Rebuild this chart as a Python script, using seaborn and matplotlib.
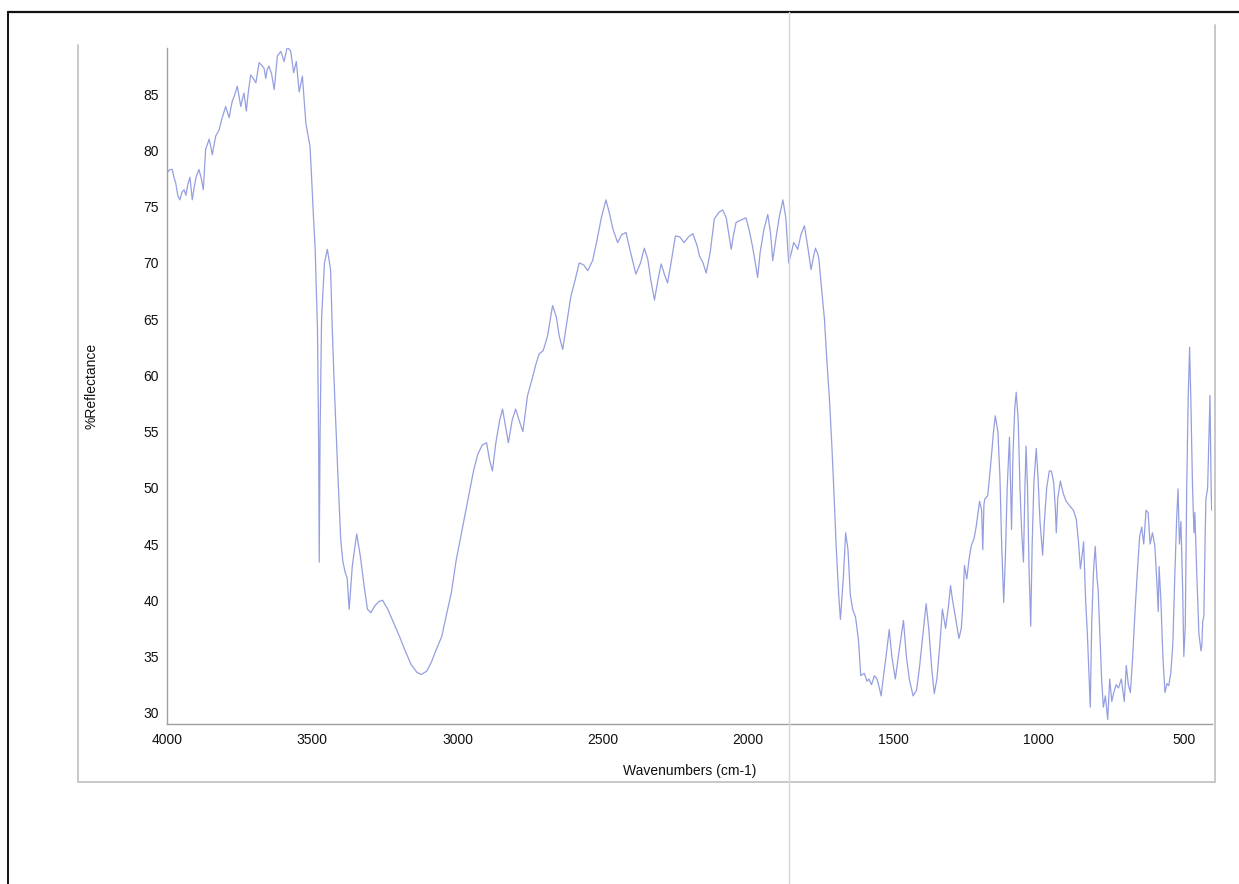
import numpy as np
import pandas as pd
import matplotlib
matplotlib.use("Agg")
import matplotlib.pyplot as plt
from matplotlib.lines import Line2D
from matplotlib.ticker import MultipleLocator
import seaborn as sns

wavenumber = [
    4000, 3990, 3982, 3975, 3970, 3963, 3956, 3948, 3941, 3935, 3928, 3921, 3913, 3906, 3899, 3890,
    3882, 3875, 3867, 3860, 3855, 3849, 3844, 3838, 3832, 3821, 3810, 3798, 3792, 3786, 3780, 3775,
    3766, 3758, 3752, 3746, 3740, 3735, 3731, 3727, 3720, 3712, 3703, 3694, 3688, 3683, 3675, 3666,
    3660, 3655, 3649, 3640, 3631, 3625, 3620, 3608, 3597, 3586, 3574, 3564, 3555, 3545, 3534, 3522,
    3508, 3503, 3497, 3490, 3482, 3478, 3476, 3473, 3468, 3458, 3448, 3437, 3431, 3425, 3413, 3402,
    3395, 3387, 3380, 3373, 3362, 3347, 3335, 3320, 3310, 3298, 3285, 3270, 3258, 3240, 3220, 3200,
    3180, 3160, 3140, 3125, 3106, 3090, 3075, 3054, 3040, 3021, 3005, 2990, 2975, 2960, 2945, 2930,
    2915, 2900, 2890, 2880, 2868, 2855, 2845, 2835, 2825, 2812, 2800, 2788, 2775, 2759, 2745, 2730,
    2719, 2705, 2690, 2673, 2660, 2650, 2638, 2625, 2610, 2595, 2581, 2565, 2552, 2535, 2520, 2505,
    2489, 2478, 2465, 2449, 2435, 2420, 2405, 2386, 2370, 2357, 2345, 2335, 2322, 2310, 2299, 2288,
    2277, 2265, 2250, 2235, 2220, 2205, 2190, 2175, 2167, 2155, 2144, 2130, 2116, 2100, 2087, 2075,
    2066, 2058, 2050, 2041, 2025, 2007, 1995, 1985, 1975, 1967, 1958, 1945, 1932, 1922, 1915, 1905,
    1893, 1880, 1870, 1860, 1850, 1843, 1835, 1829, 1818, 1806, 1795, 1783, 1775, 1768, 1760, 1756,
    1748, 1737, 1728, 1720, 1712, 1705, 1697, 1688, 1682, 1672, 1664, 1656, 1648, 1640, 1630, 1620,
    1612, 1600, 1590, 1584, 1575, 1565, 1556, 1548, 1542, 1535, 1525, 1514, 1505, 1493, 1480, 1465,
    1455, 1445, 1432, 1420, 1410, 1400, 1387, 1378, 1368, 1359, 1350, 1340, 1331, 1320, 1310, 1303,
    1296, 1289, 1282, 1274, 1266, 1262, 1255, 1247, 1240, 1232, 1222, 1215, 1203, 1196, 1192, 1188,
    1185, 1175, 1165, 1155, 1149, 1140, 1133, 1127, 1120, 1114, 1108, 1100, 1096, 1093, 1088, 1082,
    1077, 1070, 1064, 1058, 1052, 1047, 1043, 1038, 1033, 1027, 1022, 1016, 1008, 1002, 995, 986,
    980, 972, 963, 956, 948, 942, 939, 934, 925, 915, 905, 893, 880, 870, 862, 856,
    850, 845, 838, 832, 826, 822, 817, 811, 805, 799, 795, 789, 783, 777, 770, 762,
    755, 748, 741, 733, 725, 715, 710, 705, 698, 691, 684, 676, 668, 660, 652, 645,
    638, 630, 623, 616, 608, 600, 594, 588, 585, 579, 572, 565, 558, 552, 545, 538,
    530, 525, 520, 515, 510, 504, 500, 495, 490, 485, 480, 476, 470, 465, 462, 455,
    448, 441, 438, 435, 431, 427, 424, 418, 414, 410, 406, 404,
]

reflectance = [
    78.0, 78.3, 78.3, 77.5, 77.1, 76.0, 75.6, 76.3, 76.5, 76.0, 77.0, 77.6, 75.6, 76.8, 77.7, 78.3,
    77.5, 76.5, 80.1, 80.6, 81.0, 80.3, 79.6, 80.5, 81.3, 81.8, 82.9, 83.9, 83.4, 82.9, 83.8, 84.4,
    85.0, 85.7, 84.8, 83.9, 84.6, 85.1, 84.3, 83.5, 85.2, 86.7, 86.4, 86.0, 87.0, 87.8, 87.6, 87.3,
    86.4, 87.2, 87.5, 86.8, 85.4, 87.0, 88.4, 88.8, 87.9, 89.2, 88.8, 86.9, 87.9, 85.2, 86.6, 82.4,
    80.4, 78.0, 74.7, 71.2, 64.1, 54.0, 43.4, 55.0, 65.0, 70.0, 71.2, 69.4, 64.1, 59.6, 51.9, 45.4,
    43.5, 42.5, 42.0, 39.2, 43.1, 45.9, 44.0, 41.0, 39.2, 38.9, 39.5, 39.9, 40.0, 39.2, 38.0, 36.8,
    35.5, 34.3, 33.6, 33.4, 33.7, 34.5, 35.5, 36.8, 38.5, 40.7, 43.5, 45.5, 47.5, 49.5, 51.5, 53.0,
    53.8, 54.0, 52.5, 51.5, 54.0, 56.0, 57.0, 55.5, 54.0, 56.0, 57.0, 56.0, 55.0, 58.2, 59.5, 61.0,
    61.9, 62.2, 63.5, 66.2, 65.2, 63.5, 62.3, 64.5, 67.0, 68.5, 70.0, 69.8, 69.3, 70.2, 72.0, 74.0,
    75.6, 74.5, 73.0, 71.8, 72.5, 72.7, 71.0, 69.0, 70.0, 71.3, 70.3, 68.5, 66.7, 68.5, 69.9, 69.0,
    68.2, 70.0, 72.4, 72.3, 71.8, 72.3, 72.6, 71.5, 70.6, 70.0, 69.1, 71.0, 73.9, 74.5, 74.7, 74.0,
    72.5, 71.2, 72.5, 73.6, 73.8, 74.0, 72.8, 71.5, 70.0, 68.7, 71.0, 73.0, 74.3, 72.5, 70.2, 72.0,
    74.0, 75.6, 74.0, 70.0, 71.0, 71.8, 71.5, 71.2, 72.5, 73.3, 71.5, 69.4, 70.5, 71.3, 70.8, 70.3,
    68.0, 65.0, 61.0, 58.0, 54.0, 50.0, 45.0, 40.5, 38.3, 42.0, 46.0, 44.5, 40.5, 39.2, 38.5, 36.5,
    33.3, 33.5, 32.8, 33.0, 32.5, 33.3, 33.0, 32.2, 31.5, 33.0, 35.0, 37.4, 35.0, 33.0, 35.5, 38.2,
    35.0, 33.0, 31.5, 32.0, 34.0, 36.5, 39.7, 37.5, 34.0, 31.7, 33.0, 36.0, 39.2, 37.5, 39.5, 41.3,
    40.0, 38.9, 37.8, 36.6, 37.5, 39.0, 43.1, 41.9, 43.5, 44.8, 45.5, 46.5, 48.8, 48.0, 44.5, 48.5,
    49.0, 49.3, 52.0, 55.0, 56.4, 55.0, 51.0, 45.0, 39.8, 44.0, 50.0, 54.5, 50.0, 46.3, 53.0, 57.0,
    58.5, 56.0, 50.0, 46.0, 43.4, 50.0, 53.7, 50.0, 43.0, 37.7, 45.0, 50.5, 53.5, 51.0, 47.0, 44.0,
    47.0, 50.0, 51.5, 51.5, 50.5, 48.0, 46.0, 49.0, 50.6, 49.5, 48.8, 48.4, 48.0, 47.2, 45.0, 42.8,
    44.0, 45.2, 40.0, 37.0, 33.0, 30.5, 38.0, 42.5, 44.8, 42.0, 41.0, 37.0, 33.0, 30.5, 31.5, 29.4,
    33.0, 31.0, 31.8, 32.5, 32.2, 33.0, 32.0, 31.0, 34.2, 32.5, 31.8, 35.0, 39.0, 42.5, 45.7, 46.5,
    45.0, 48.0, 47.8, 45.0, 46.0, 44.9, 42.2, 39.0, 43.0, 40.0, 35.0, 31.8, 32.6, 32.4, 33.5, 36.0,
    43.0, 47.0, 49.9, 45.0, 47.0, 41.0, 35.0, 37.7, 50.0, 58.0, 62.5, 58.0, 50.0, 46.0, 47.8, 42.0,
    37.0, 35.5, 36.0, 38.1, 38.6, 45.0, 49.0, 50.0, 54.0, 58.2, 50.0, 48.0,
]

x_ticks = [4000, 3500, 3000, 2500, 2000, 1500, 1000, 500]
y_ticks = [30, 35, 40, 45, 50, 55, 60, 65, 70, 75, 80, 85]
x_label = "Wavenumbers (cm-1)"
y_label = "%Reflectance"

df = pd.DataFrame({"wn": wavenumber, "refl": reflectance})

sns.set_style("white")
plt.rcParams["font.family"] = ["Liberation Sans", "DejaVu Sans"]

W, H = 1239, 884
fig = plt.figure(figsize=(W / 100, H / 100), dpi=100)
fig.patch.set_facecolor("white")

# axes placement (pixels)
ax_l, ax_r, ax_t, ax_b = 167, 1212, 48, 724
ax = fig.add_axes([ax_l / W, 1 - ax_b / H, (ax_r - ax_l) / W, (ax_b - ax_t) / H])
ax.set_facecolor("white")

sns.lineplot(data=df, x="wn", y="refl", estimator=None, sort=False,
             color="#959fe0", lw=0.9, ax=ax)

ax.set_xlim(4000, 403)
ax.set_ylim(29.0, 89.1)
ax.set_xticks(x_ticks)
ax.set_yticks(y_ticks)
ax.xaxis.set_minor_locator(MultipleLocator(100))
ax.yaxis.set_minor_locator(MultipleLocator(1))

for s in ["top", "right"]:
    ax.spines[s].set_visible(False)
for s in ["left", "bottom"]:
    ax.spines[s].set_color("#a0a0a0")
    ax.spines[s].set_linewidth(1.0)

ax.tick_params(axis="y", which="major", direction="out", length=5, width=1.0,
               color="#333333", labelsize=10, pad=1, labelcolor="#111111")
ax.tick_params(axis="x", which="major", direction="inout", length=4, width=1.0,
               color="#333333", labelsize=10, pad=4.5, labelcolor="#111111")
ax.tick_params(axis="both", which="minor", direction="out", length=1.5, width=1.6,
               color="#222222")

ax.set_xlabel(x_label, fontsize=10, color="#111111")
ax.set_ylabel(y_label, fontsize=10, color="#111111")
ax.xaxis.set_label_coords(0.5, (ax_b - 764) / (ax_b - ax_t))
ax.yaxis.set_label_coords((99 - ax_l) / (ax_r - ax_l), 0.5)
ax.grid(False)

# scanned-page decorations: outer frame, grey panel border, fold line
def fx(px):
    return px / W

def fy(py):
    return 1 - py / H

fig.add_artist(Line2D([fx(8), 1.0], [fy(12), fy(12)], color="#111111", lw=1.6))
fig.add_artist(Line2D([fx(8), fx(8)], [fy(12), 0.0], color="#111111", lw=1.4))
panel_col = "#c4c4c4"
fig.add_artist(Line2D([fx(78), fx(78)], [fy(45), fy(782)], color=panel_col, lw=1.3))
fig.add_artist(Line2D([fx(1215), fx(1215)], [fy(25), fy(782)], color=panel_col, lw=1.3))
fig.add_artist(Line2D([fx(78), fx(1215)], [fy(782), fy(782)], color=panel_col, lw=1.3))
fig.add_artist(Line2D([fx(789), fx(789)], [0.0, fy(12)], color="#d6d6d6", lw=1.0))

fig.savefig("out.png", dpi=100, facecolor="white")
